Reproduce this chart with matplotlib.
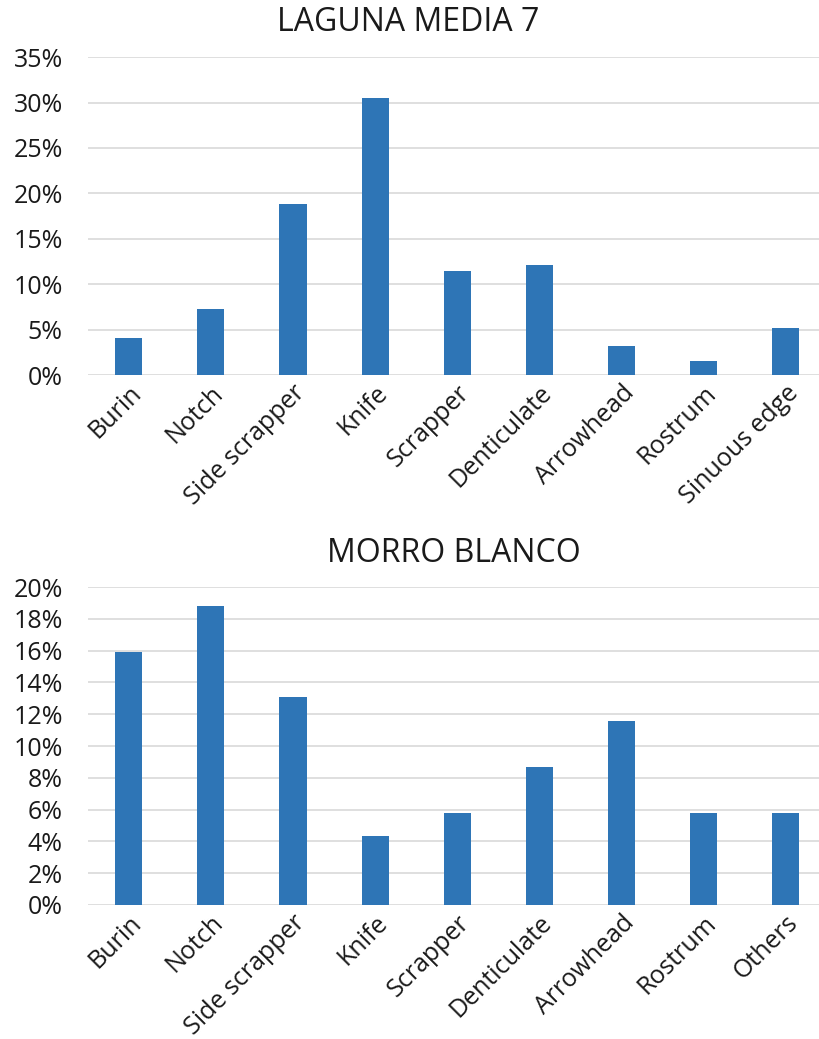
import numpy as np
import matplotlib
matplotlib.use("Agg")
from matplotlib import pyplot as plt
from matplotlib.ticker import PercentFormatter

plt.rcParams['font.family'] = ['Open Sans', 'DejaVu Sans']

# top panel
laguna_cats = ["Burin", "Notch", "Side scrapper", "Knife", "Scrapper",
               "Denticulate", "Arrowhead", "Rostrum", "Sinuous edge"]
laguna_vals = [4.1, 7.3, 18.8, 30.5, 11.5, 12.1, 3.2, 1.5, 5.2]

# bottom panel
morro_cats = ["Burin", "Notch", "Side scrapper", "Knife", "Scrapper",
              "Denticulate", "Arrowhead", "Rostrum", "Others"]
morro_vals = [15.9, 18.8, 13.1, 4.35, 5.8, 8.65, 11.6, 5.8, 5.8]

blue = "#2e75b6"
grid_col = "#d9d9d9"
txt = "#1a1a1a"

fig = plt.figure(figsize=(8.2, 10.39), dpi=100)
ax1 = fig.add_axes([0.107, 0.639, 0.901, 0.306])
ax2 = fig.add_axes([0.107, 0.129, 0.901, 0.306])


def draw(ax, cats, vals, ymax, step):
    x = np.arange(len(cats))
    ax.bar(x, vals, width=0.33, color=blue, zorder=3)
    ax.set_xlim(-0.5, len(cats) - 0.5)
    ax.set_ylim(0, ymax)
    ax.set_yticks(np.arange(0, ymax + 0.01, step))
    ax.yaxis.set_major_formatter(PercentFormatter(decimals=0))
    ax.grid(axis='y', color=grid_col, linewidth=1.2, zorder=0)
    for s in ax.spines.values():
        s.set_visible(False)
    ax.tick_params(axis='y', length=0, labelsize=18, colors=txt, pad=18)
    ax.tick_params(axis='x', length=0, labelsize=18, colors=txt, pad=4)
    ax.set_xticks(x)
    ax.set_xticklabels(cats, rotation=45, ha='right', rotation_mode='anchor')


draw(ax1, laguna_cats, laguna_vals, 35, 5)
draw(ax2, morro_cats, morro_vals, 20, 2)

fig.text(0.498, 0.978, "LAGUNA MEDIA 7", ha='center', va='center', fontsize=23, color=txt)
fig.text(0.554, 0.467, "MORRO BLANCO", ha='center', va='center', fontsize=23, color=txt)

fig.savefig("out.png", dpi=100)
